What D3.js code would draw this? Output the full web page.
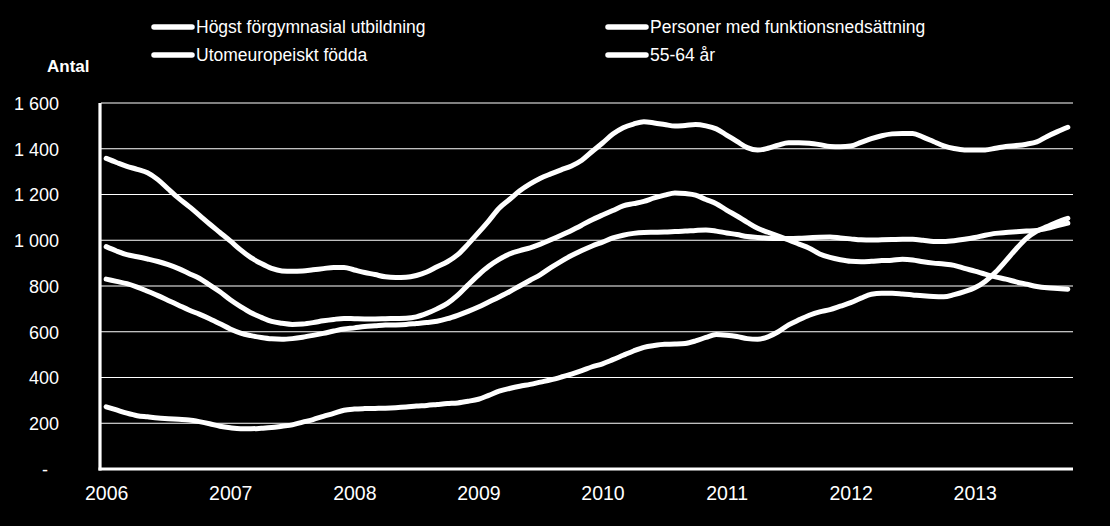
<!DOCTYPE html>
<html>
<head>
<meta charset="utf-8">
<script src="https://cdn.jsdelivr.net/npm/d3@7"></script>
<style>
  body { margin:0; background:#000; }
  svg text { font-family: "Liberation Sans", Arial, sans-serif; fill:#fff; }
</style>
</head>
<body>
<svg id="chart" width="1110" height="526"></svg>
<script>
// monthly data, jan 2006 - oct 2013
var months = [];
for (var yr = 2006; yr <= 2013; yr++) {
    for (var m = 1; m <= 12; m++) {
        if (yr == 2013 && m > 10) break;
        months.push(yr + "-" + (m < 10 ? "0" + m : m));
    }
}

var seriesNames = ["Högst förgymnasial utbildning", "Personer med funktionsnedsättning",
                   "Utomeuropeiskt födda", "55-64 år"];

var hogstForgymnasial = [1358,1340,1323,1310,1295,1265,1224,1184,1148,1110,1071,1034,
    997,958,924,898,877,866,864,866,871,876,881,881,
    870,859,850,840,837,838,846,861,884,906,937,983,
    1033,1085,1140,1178,1216,1246,1271,1290,1308,1325,1350,1388,
    1425,1464,1492,1508,1518,1513,1506,1499,1502,1506,1500,1487,
    1460,1432,1405,1394,1402,1416,1426,1426,1424,1418,1410,1409,
    1412,1428,1444,1457,1465,1467,1467,1451,1432,1413,1401,1395,
    1395,1395,1402,1410,1414,1420,1430,1454,1475,1494];

var utomeuropeiskt = [972,953,937,928,918,907,893,876,855,834,805,775,
    740,710,683,663,645,637,632,634,640,648,654,658,
    657,656,656,657,658,659,665,680,700,724,760,805,
    848,886,916,940,955,967,983,1002,1022,1043,1066,1090,
    1110,1130,1150,1160,1170,1185,1197,1207,1204,1197,1178,1160,
    1132,1106,1078,1052,1035,1018,1001,983,965,940,925,915,
    908,906,908,911,913,917,914,906,900,896,890,877,
    865,852,840,830,818,808,798,792,789,786];

var funktionsnedsattning = [830,820,810,795,777,758,737,716,695,677,657,635,
    612,594,583,575,569,567,570,576,584,593,603,612,
    617,623,626,629,630,632,636,640,646,657,672,689,
    708,730,752,775,800,825,850,880,908,933,955,975,
    992,1010,1022,1030,1034,1035,1036,1038,1040,1043,1045,1040,
    1032,1025,1016,1012,1009,1008,1008,1009,1011,1013,1014,1010,
    1006,1002,1001,1002,1003,1004,1004,1000,995,995,998,1004,
    1012,1022,1030,1034,1037,1040,1043,1052,1064,1075];

var aldre5564 = [272,258,244,233,228,223,220,217,214,207,198,187,
    180,176,176,178,181,187,193,205,216,230,243,257,
    262,264,265,266,268,271,275,278,282,286,289,296,
    305,322,340,352,362,370,380,390,402,415,430,447,
    460,478,497,516,532,540,545,546,549,560,575,588,
    585,579,570,567,578,600,630,652,672,687,697,712,
    727,747,764,768,768,765,761,757,754,753,762,775,
    792,820,860,910,962,1008,1040,1060,1080,1096];

var yTicks = [0,200,400,600,800,1000,1200,1400,1600];

var svg = d3.select("#chart");
var space = {left:101, right:1073, top:103, bottom:469};

svg.append("rect").attr("width",1110).attr("height",526).attr("fill","#000");

var x = d3.scalePoint().domain(months).range([space.left, space.right]).padding(0.5);
var y = d3.scaleLinear().domain([0,1600]).range([space.bottom, space.top]);

// gridlines
svg.append("g").selectAll("line.grid")
    .data(yTicks.filter(function(d){return d>0}))
    .enter().append("line")
    .attr("x1",space.left).attr("x2",space.right)
    .attr("y1",function(d){return y(d)}).attr("y2",function(d){return y(d)})
    .attr("stroke","#fff").attr("stroke-width",1.2);

// y axis labels
var fmt = function(d){
    if (d == 0) return "-";
    return d3.format(",")(d).replace(",", " ");
};
var yAxis = d3.axisLeft(y).tickValues(yTicks).tickFormat(fmt).tickSize(0).tickPadding(0);
var gy = svg.append("g").attr("transform","translate(59,0)").call(yAxis);
gy.select(".domain").remove();
gy.selectAll("text").style("font-size","18px").attr("fill","#fff").attr("dy","0.35em");
gy.selectAll(".tick").filter(function(d){return d==0}).select("text").attr("x",-11);

// x axis labels
var xAxis = d3.axisBottom(x)
    .tickValues(months.filter(function(d){return d.slice(5)=="01"}))
    .tickFormat(function(d){return d.slice(0,4)})
    .tickSize(0).tickPadding(0);
var gx = svg.append("g").attr("transform","translate(0,500)").call(xAxis);
gx.select(".domain").remove();
gx.selectAll("text").style("font-size","19.5px").attr("fill","#fff").attr("dy","0");

// axis lines
svg.append("line").attr("x1",space.left-1).attr("x2",space.left-1)
    .attr("y1",space.top).attr("y2",space.bottom+1.5)
    .attr("stroke","#fff").attr("stroke-width",3.2);
svg.append("line").attr("x1",space.left-2.5).attr("x2",space.right)
    .attr("y1",space.bottom).attr("y2",space.bottom)
    .attr("stroke","#fff").attr("stroke-width",3.2);

// lines
var line = d3.line()
    .x(function(d,i){return x(months[i])})
    .y(function(d){return y(d)})
    .curve(d3.curveMonotoneX);

[hogstForgymnasial, utomeuropeiskt, funktionsnedsattning, aldre5564].forEach(function(s){
    svg.append("path").datum(s).attr("d",line)
        .attr("fill","none").attr("stroke","#fff")
        .attr("stroke-width",5).attr("stroke-linecap","round").attr("stroke-linejoin","round");
});

// legend
var legend = [
    {t:seriesNames[0], x:152, y:27},
    {t:seriesNames[1], x:606, y:27},
    {t:seriesNames[2], x:152, y:55},
    {t:seriesNames[3], x:606, y:55}
];
var lg = svg.append("g").selectAll("g").data(legend).enter().append("g");
lg.append("line")
    .attr("x1",function(d){return d.x+2}).attr("x2",function(d){return d.x+40})
    .attr("y1",function(d){return d.y}).attr("y2",function(d){return d.y})
    .attr("stroke","#fff").attr("stroke-width",5.5).attr("stroke-linecap","round");
lg.append("text")
    .attr("x",function(d){return d.x+44}).attr("y",function(d){return d.y+6})
    .style("font-size","17.5px")
    .text(function(d){return d.t});

svg.append("text").attr("x",47).attr("y",72)
    .style("font-size","17px").style("font-weight","bold")
    .text("Antal");
</script>
</body>
</html>
